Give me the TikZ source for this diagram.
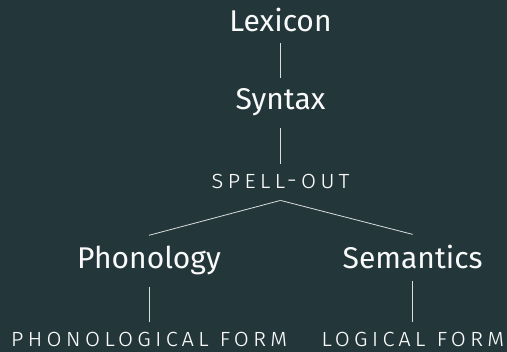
\documentclass[tikz,border=0pt]{standalone}
\usepackage{fontspec}
\setmainfont{Fira Sans}
\newfontfamily\capsfont[Letters=SmallCaps,LetterSpace=15]{Fira Sans Light}
\definecolor{bg}{HTML}{23373B}
\definecolor{fg}{HTML}{FAFAFA}
\begin{document}
\begin{tikzpicture}[x=1pt,y=1pt,
  big/.style={font=\fontsize{30}{36}\selectfont, text=fg, inner sep=11pt},
  small/.style={font=\capsfont\fontsize{25}{30}\selectfont, text=fg, inner sep=11pt},
  leaf/.style={small, inner ysep=2pt},
  edge/.style={draw=fg!85!bg, line width=0.8pt}]
\fill[bg] (0,0) rectangle (507,352);
\useasboundingbox (0,0) rectangle (507,352);
\node[big, anchor=base] (lex) at (280.5,320.3) {Lexicon};
\node[big, anchor=base] (syn) at (280.5,242) {Syntax};
\node[small, anchor=base] (spo) at (280.5,163) {spell-out};
\node[big, anchor=base] (pho) at (149,83) {Phonology};
\node[big, anchor=base] (sem) at (412.7,83) {Semantics};
\node[leaf, anchor=base] (pf) at (149,5.5) {phonological form};
\node[leaf, anchor=base] (lf) at (412.7,5.5) {logical form};
\draw[edge] (lex.south) -- (syn.north);
\draw[edge] (syn.south) -- (spo.north);
\draw[edge] (spo.south) -- (pho.north);
\draw[edge] (spo.south) -- (sem.north);
\draw[edge, shorten >=8pt] (pho.south) -- (pf.north);
\draw[edge, shorten >=8pt] (sem.south) -- (lf.north);
\end{tikzpicture}
\end{document}
